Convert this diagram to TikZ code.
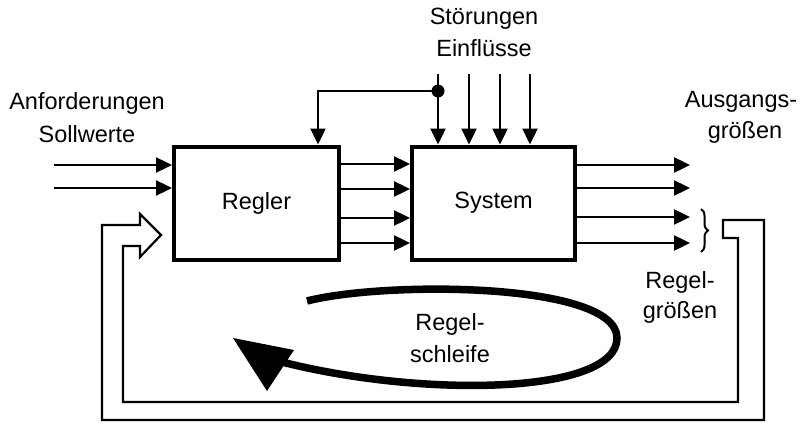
\documentclass[tikz,border=0pt]{standalone}
\usepackage{fontspec}
\setmainfont{Liberation Sans}
\usetikzlibrary{arrows.meta,decorations.pathreplacing}
\begin{document}
\begin{tikzpicture}[x=1pt,y=-1pt,
  blk/.style={draw, line width=4pt, inner sep=0pt, minimum height=113pt, font=\fontsize{23.5}{28}\selectfont},
  arr/.style={line width=2.4pt, -{Triangle[length=16pt,width=15pt]}},
  lbl/.style={anchor=base, inner sep=0pt, font=\fontsize{23.5}{28}\selectfont},
  fb/.style={line width=2.2pt, line join=miter},
  loopline/.style={line width=7.5pt}
]
\useasboundingbox (0,0) rectangle (810,433);

% blocks
\node[blk, minimum width=165pt] (regler) at (256.5,203) {Regler};
\node[blk, minimum width=163pt] (system) at (493.5,203) {System};

% input arrows
\coordinate (in1) at (54,165);
\coordinate (in2) at (54,188);
\draw[arr] (in1) -- (regler.west |- in1);
\draw[arr] (in2) -- (regler.west |- in2);

% regler -> system
\foreach \yy [count=\i] in {164,189,218,243}{
  \coordinate (m\i) at (0,\yy);
  \draw[arr] (regler.east |- m\i) -- (system.west |- m\i);
}

% outputs
\foreach \yy [count=\i] in {165,188,217,243}{
  \coordinate (o\i) at (690,\yy);
  \draw[arr] (system.east |- o\i) -- (o\i);
}

% disturbances
\foreach \xx [count=\i] in {438,469,500,530}{
  \coordinate (d\i) at (\xx,74);
  \draw[arr] (d\i) -- (system.north -| d\i);
}
\coordinate (br) at (438,91);
\coordinate (bx) at (318,91);
\draw[arr] (br) -- (bx) -- (regler.north -| bx);
\fill (br) circle (6.5pt);

% brace
\draw[line width=2pt, decorate, decoration={brace, amplitude=7pt}] (701,209) -- (701,252);

% feedback hollow arrow
\draw[fb] (723,220) -- (764,220) -- (764,420) -- (102,420) -- (102,225) -- (140,225)
  -- (140,214) -- (161,235) -- (140,257) -- (140,246) -- (123,246) -- (123,402)
  -- (738,402) -- (738,238) -- (723,238) -- cycle;

% control loop
\draw[loopline] (307,301) .. controls (385,281) and (617,282) .. (617,338)
  .. controls (617,395) and (420,398) .. (278,361);
\fill (233,338) -- (294,350) -- (267,391) -- cycle;

% labels
\node[lbl] (t1a) at (87,110) {Anforderungen};
\node[lbl] (t1b) at (87,142) {Sollwerte};
\node[lbl] (t2a) at (484,25) {Störungen};
\node[lbl] (t2b) at (484,57) {Einflüsse};
\node[lbl] (t3a) at (741,107) {Ausgangs-};
\node[lbl] (t3b) at (745,139) {größen};
\node[lbl] (t4a) at (680,288) {Regel-};
\node[lbl] (t4b) at (680,318) {größen};
\node[lbl] (t5a) at (450,330) {Regel-};
\node[lbl] (t5b) at (450,362) {schleife};
\end{tikzpicture}
\end{document}
